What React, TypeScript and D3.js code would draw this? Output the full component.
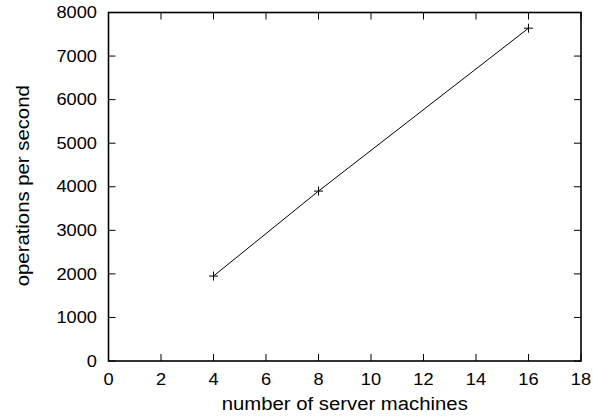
import React from "react";
import * as d3 from "d3";

const machines = [4, 8, 16];
const opsPerSecond = [1950, 3900, 7640];
const xTicks = [0, 2, 4, 6, 8, 10, 12, 14, 16, 18];
const yTicks = [0, 1000, 2000, 3000, 4000, 5000, 6000, 7000, 8000];

const W = 593;
const H = 418;
const margin = { top: 12.5, right: 12, bottom: 57, left: 108.5 };

export default function App() {
  const x = d3.scaleLinear().domain([0, 18]).range([margin.left, W - margin.right]);
  const y = d3.scaleLinear().domain([0, 8000]).range([H - margin.bottom, margin.top]);
  const data = machines.map((m, i) => ({ m, v: opsPerSecond[i] }));
  const line = d3.line<{ m: number; v: number }>().x(d => x(d.m)).y(d => y(d.v));
  const x0 = x(0), x1 = x(18), y0 = y(0), y1 = y(8000);
  const tl = 7;
  const font = "'Liberation Sans', Arial, sans-serif";
  // the reference glyphs are a little wider than Liberation Sans
  const tickStretch = 1.14;
  const titleStretch = 1.07;

  return (
    <svg width={W} height={H} style={{ position: "absolute", left: 0, top: 0, background: "#fff" }}
      fontFamily={font}>
      {xTicks.map(t => (
        <g key={"x" + t}>
          <line x1={x(t)} x2={x(t)} y1={y0} y2={y0 - tl} stroke="#000" strokeWidth={1} />
          <line x1={x(t)} x2={x(t)} y1={y1} y2={y1 + tl} stroke="#000" strokeWidth={1} />
          <text transform={`translate(${x(t)},385) scale(${tickStretch},1)`} textAnchor="middle" fontSize={16}>{t}</text>
        </g>
      ))}
      {yTicks.map(t => (
        <g key={"y" + t}>
          <line x1={x0} x2={x0 + tl} y1={y(t)} y2={y(t)} stroke="#000" strokeWidth={1} />
          <line x1={x1} x2={x1 - tl} y1={y(t)} y2={y(t)} stroke="#000" strokeWidth={1} />
          <text transform={`translate(${x0 - 11.5},${y(t) + 5.7}) scale(${tickStretch},1)`} textAnchor="end" fontSize={16}>{t}</text>
        </g>
      ))}
      <rect x={x0} y={y1} width={x1 - x0} height={y0 - y1} fill="none" stroke="#000" strokeWidth={1.6} />
      <path d={line(data) || ""} fill="none" stroke="#000" strokeWidth={1} />
      {data.map(d => (
        <g key={d.m} stroke="#000" strokeWidth={1}>
          <line x1={x(d.m) - 4.5} x2={x(d.m) + 4.5} y1={y(d.v)} y2={y(d.v)} />
          <line x1={x(d.m)} x2={x(d.m)} y1={y(d.v) - 4.5} y2={y(d.v) + 4.5} />
        </g>
      ))}
      <text transform={`translate(${(x0 + x1) / 2},410) scale(${titleStretch},1)`} textAnchor="middle" fontSize={19}>
        number of server machines
      </text>
      <text transform={`translate(28.5,${(y0 + y1) / 2 - 1}) rotate(-90) scale(${titleStretch},1)`} textAnchor="middle" fontSize={19}>
        operations per second
      </text>
    </svg>
  );
}
